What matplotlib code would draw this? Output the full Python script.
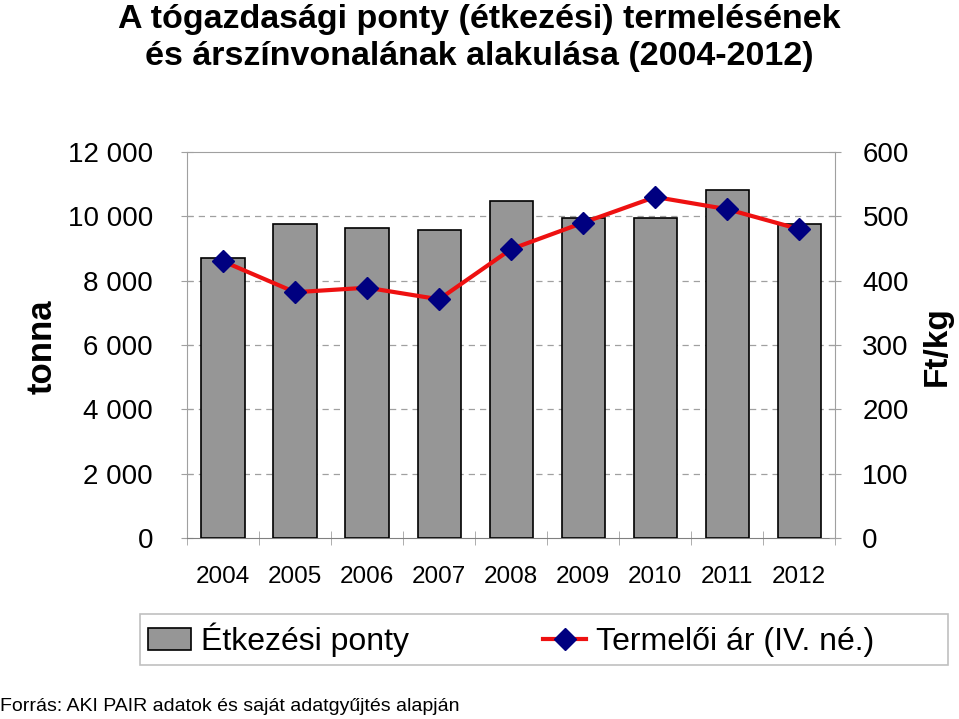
import matplotlib
matplotlib.use("Agg")
import matplotlib.pyplot as plt
from matplotlib.patches import Rectangle
import numpy as np

plt.rcParams['font.family'] = ['Liberation Sans', 'DejaVu Sans']

# adatok
evek = ['2004', '2005', '2006', '2007', '2008', '2009', '2010', '2011', '2012']
termeles = [8700, 9760, 9640, 9575, 10475, 9950, 9950, 10820, 9760]   # tonna
ar = [430, 382, 389, 371, 449, 490, 530, 511, 480]                     # Ft/kg
bal_tick = [0, 2000, 4000, 6000, 8000, 10000, 12000]
bal_cimke = ['0', '2 000', '4 000', '6 000', '8 000', '10 000', '12 000']
jobb_tick = [0, 100, 200, 300, 400, 500, 600]

fig = plt.figure(figsize=(9.59, 7.19), dpi=100)
ax = fig.add_axes([0.195, 0.2517, 0.676, 0.537])

x = np.arange(len(evek))
bars = ax.bar(x, termeles, width=0.6, color='#969696', edgecolor='black',
              linewidth=1.2, zorder=3, label='Étkezési ponty')
ax.set_xlim(-0.5, len(evek) - 0.5)
ax.set_ylim(0, 12000)
ax.set_yticks(bal_tick)
ax.set_yticklabels(bal_cimke, fontsize=20)
ax.set_xticks(x)
ax.set_xticklabels(evek, fontsize=17.5)
ax.tick_params(axis='x', length=0, pad=20)
ax.tick_params(axis='y', length=9, direction='inout', color='#a0a0a0', pad=20)
# kategoria hatarok jelolese
ax.set_xticks(np.arange(-0.5, len(evek)), minor=True)
ax.tick_params(axis='x', which='minor', length=10, direction='inout', color='#a0a0a0')
for y in bal_tick[1:-1]:
    ax.axhline(y, color='#a0a0a0', linestyle=(0, (5, 4)), linewidth=0.9, zorder=1)

for s in ['top', 'right', 'left']:
    ax.spines[s].set_color('#a0a0a0')
ax.spines['bottom'].set_color('#808080')

ax2 = ax.twinx()
ax2.plot(x, ar, color='#ee1111', linewidth=3, marker='D', markersize=11,
         markerfacecolor='#000080', markeredgecolor='#000080', zorder=5,
         label='Termelői ár (IV. né.)')
ax2.set_ylim(0, 600)
ax2.set_yticks(jobb_tick)
ax2.set_yticklabels([str(t) for t in jobb_tick], fontsize=20)
ax2.tick_params(axis='y', length=9, direction='inout', color='#a0a0a0', pad=15)
for s in ['top', 'right', 'left', 'bottom']:
    ax2.spines[s].set_visible(False)

# tengelyfeliratok
fig.text(42 / 959, 1 - 347 / 719, 'tonna', rotation=90, ha='center', va='center',
         fontsize=25, fontweight='bold')
fig.text(937 / 959, 1 - 346 / 719, 'Ft/kg', rotation=90, ha='center', va='center',
         fontsize=24, fontweight='bold')

fig.text(0.5, 0.995, 'A tógazdasági ponty (étkezési) termelésének\nés árszínvonalának alakulása (2004-2012)',
         ha='center', va='top', fontsize=24.5, fontweight='bold', linespacing=1.27)

# jelmagyarazat
h1, l1 = ax.get_legend_handles_labels()
h2, l2 = ax2.get_legend_handles_labels()
leg = fig.legend(h1 + h2, l1 + l2, loc='center left', bbox_to_anchor=(126 / 959, 1 - 640 / 719),
                 ncol=2, fontsize=23, frameon=False, columnspacing=4.2,
                 handlelength=1.35, handletextpad=0.3, borderpad=0.2)
fig.patches.append(Rectangle((140 / 959, 1 - 665 / 719), 808 / 959, 51 / 719,
                             transform=fig.transFigure, fill=False,
                             edgecolor='#c0c0c0', linewidth=1.2))

fig.text(0.0, 0.018, 'Forrás: AKI PAIR adatok és saját adatgyűjtés alapján',
         ha='left', va='center', fontsize=14)

fig.savefig('out.png', dpi=100)
